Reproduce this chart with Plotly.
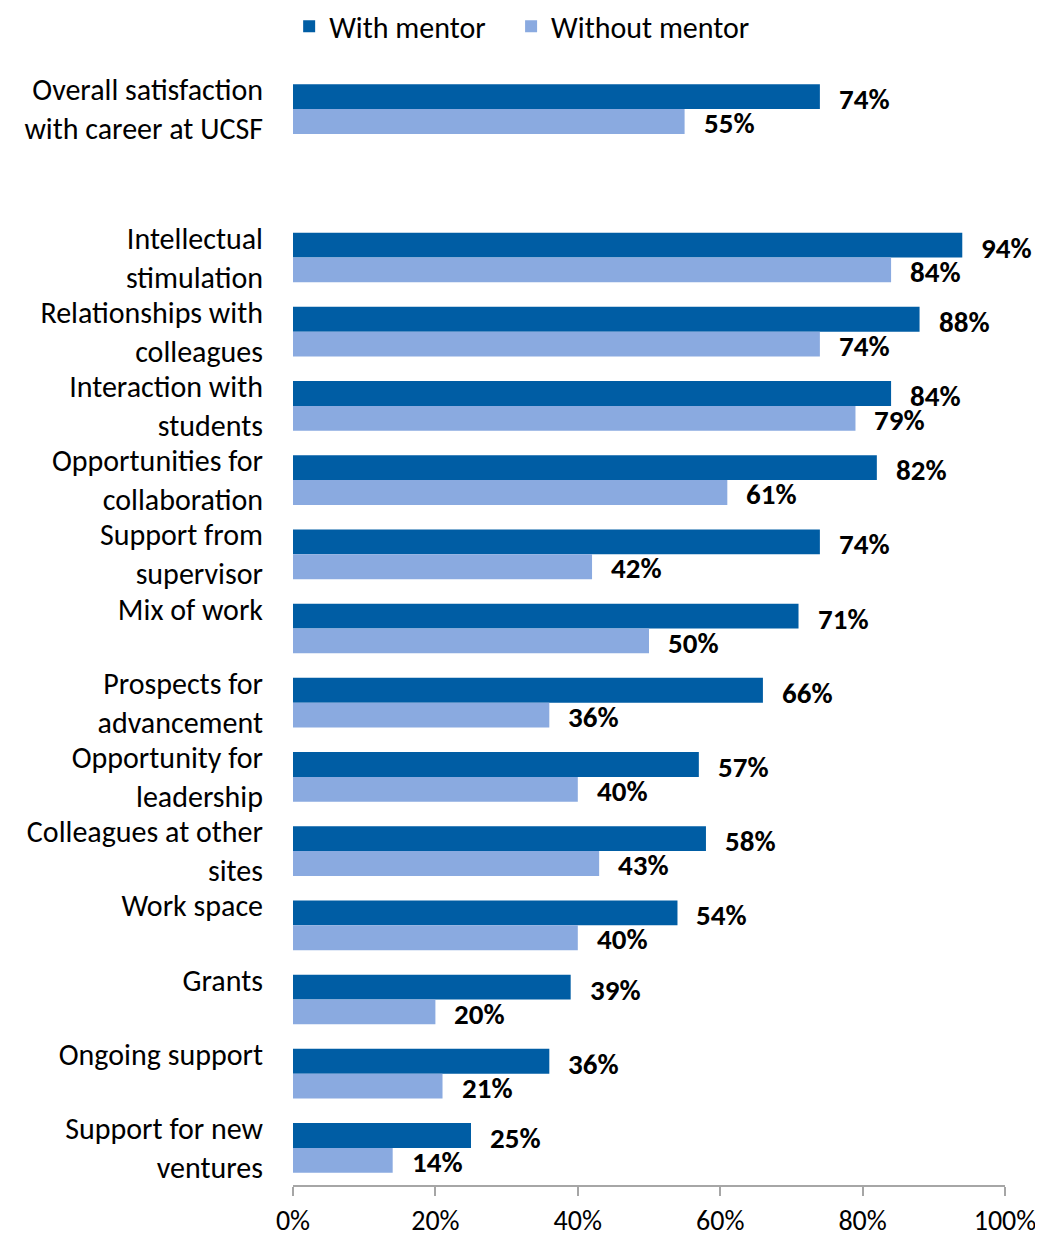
import plotly.graph_objects as go

categories = [
    "Overall satisfaction<br>with career at UCSF",
    " ",
    "Intellectual<br>stimulation",
    "Relationships with<br>colleagues",
    "Interaction with<br>students",
    "Opportunities for<br>collaboration",
    "Support from<br>supervisor",
    "Mix of work<br> ",
    "Prospects for<br>advancement",
    "Opportunity for<br>leadership",
    "Colleagues at other<br>sites",
    "Work space<br> ",
    "Grants<br> ",
    "Ongoing support<br> ",
    "Support for new<br>ventures",
]
with_mentor = [74, None, 94, 88, 84, 82, 74, 71, 66, 57, 58, 54, 39, 36, 25]
without_mentor = [55, None, 84, 74, 79, 61, 42, 50, 36, 40, 43, 40, 20, 21, 14]
series_names = ["With mentor", "Without mentor"]
tick_vals = [0, 20, 40, 60, 80, 100]
tick_text = ["0%", "20%", "40%", "60%", "80%", "100%"]

DARK = "#005DA4"
LIGHT = "#8AAAE0"
FONT = "Calibri, Carlito, Lato"
PAD = "\u00a0" * 3

fig = go.Figure()
fig.add_trace(go.Bar(y=categories, x=with_mentor, orientation="h", name=series_names[0] + PAD,
                     marker=dict(color=DARK, line=dict(width=0))))
fig.add_trace(go.Bar(y=categories, x=without_mentor, orientation="h", name=series_names[1],
                     marker=dict(color=LIGHT, line=dict(width=0))))

annotations = []
for cat, a, b in zip(categories, with_mentor, without_mentor):
    if a is not None:
        annotations.append(dict(x=a, y=cat, text=f"{a}%", xanchor="left", yanchor="middle",
                                xshift=17, yshift=10, showarrow=False,
                                font=dict(family=FONT, size=29, color="black", weight="bold")))
    if b is not None:
        annotations.append(dict(x=b, y=cat, text=f"{b}%", xanchor="left", yanchor="middle",
                                xshift=17, yshift=-14, showarrow=False,
                                font=dict(family=FONT, size=29, color="black", weight="bold")))

fig.update_layout(
    width=1035, height=1233,
    margin=dict(l=285, r=38, t=64, b=56, autoexpand=False),
    paper_bgcolor="white", plot_bgcolor="white",
    barmode="group", bargap=0.33, bargroupgap=0,
    font=dict(family=FONT, size=30, color="black"),
    legend=dict(orientation="h", x=-0.0054, xanchor="left", y=1.041, yanchor="middle",
                font=dict(family=FONT, size=30), traceorder="normal", itemwidth=30),
    annotations=annotations,
    showlegend=True,
)
fig.update_xaxes(range=[0, 100], tickvals=tick_vals, ticktext=tick_text, showgrid=False,
                 showline=True, linecolor="#A6A6A6", linewidth=1.5, ticks="outside",
                 ticklen=9, tickcolor="#A6A6A6", tickwidth=1.5, zeroline=False,
                 tickfont=dict(family=FONT, size=28), ticklabelstandoff=1, automargin=False)
fig.update_yaxes(categoryorder="array", categoryarray=categories, autorange="reversed",
                 showgrid=False, showline=False, ticks="", zeroline=False,
                 tickfont=dict(family=FONT, size=30), ticklabelstandoff=29, automargin=False)

fig.write_html("out.html")
